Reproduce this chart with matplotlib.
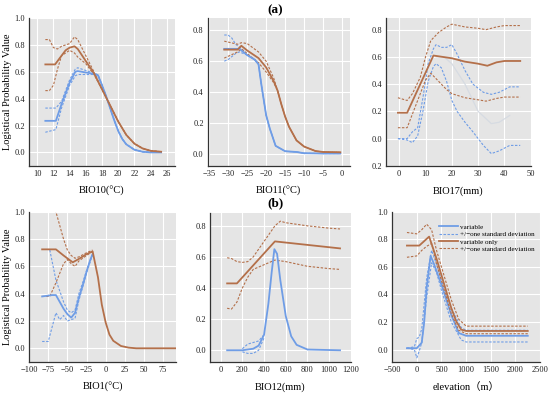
import numpy as np
import matplotlib
matplotlib.use("Agg")
import matplotlib.pyplot as plt
from matplotlib.ticker import FuncFormatter

plt.rcParams['font.family'] = ['Liberation Serif', 'Noto Sans CJK SC']

BLUE = '#6f9de6'
BROWN = '#b4704a'

# ---- panel 1: BIO10
bio10_x = [11, 12.3, 13, 14, 14.7, 15, 16, 17, 17.5, 18, 18.5, 19, 19.5, 20, 20.5, 21, 22, 23, 24, 25.3]
bio10_blue = [0.235, 0.235, 0.36, 0.52, 0.6, 0.605, 0.595, 0.585, 0.575, 0.5, 0.42, 0.33, 0.24, 0.16, 0.1, 0.06, 0.02, 0.005, 0.0, 0.0]
bio10_blue_hi = [0.33, 0.33, 0.38, 0.54, 0.62, 0.63, 0.61, 0.59, 0.578, 0.5, 0.42, 0.33, 0.24, 0.16, 0.1, 0.06, 0.02, 0.005, 0.0, 0.0]
bio10_blue_lo = [0.15, 0.17, 0.33, 0.5, 0.57, 0.58, 0.58, 0.58, 0.572, 0.5, 0.42, 0.33, 0.24, 0.16, 0.1, 0.06, 0.02, 0.005, 0.0, 0.0]
bio10_bx = [11, 12.2, 13, 13.5, 14, 14.6, 15, 16, 17, 18, 19, 20, 21, 22, 23, 24, 25.3]
bio10_brown = [0.655, 0.655, 0.72, 0.76, 0.78, 0.79, 0.77, 0.68, 0.59, 0.47, 0.35, 0.23, 0.13, 0.065, 0.03, 0.012, 0.005]
bio10_bhi_x = [11, 11.5, 12, 12.5, 13, 14, 14.6, 15, 16, 17, 18, 19, 20, 21, 22, 23, 24, 25.3]
bio10_brown_hi = [0.84, 0.84, 0.78, 0.77, 0.79, 0.81, 0.86, 0.84, 0.72, 0.6, 0.47, 0.35, 0.23, 0.13, 0.065, 0.03, 0.012, 0.005]
bio10_brown_lo = [0.46, 0.46, 0.5, 0.62, 0.72, 0.76, 0.74, 0.71, 0.66, 0.58, 0.47, 0.35, 0.23, 0.13, 0.065, 0.03, 0.012, 0.005]

# ---- panel 2: BIO11
bio11_x = [-31, -30, -29, -28, -27, -26, -25, -23, -22, -21.2, -20, -19, -17.5, -15, -12, -10, -5, -0.5]
bio11_blue = [0.68, 0.68, 0.68, 0.68, 0.68, 0.66, 0.64, 0.61, 0.58, 0.44, 0.25, 0.16, 0.05, 0.015, 0.01, 0.002, 0.0, 0.0]
bio11_blue_hi = [0.77, 0.77, 0.75, 0.71, 0.69, 0.67, 0.64, 0.61, 0.58, 0.44, 0.25, 0.16, 0.05, 0.015, 0.01, 0.002, 0.0, 0.0]
bio11_blue_lo = [0.60, 0.61, 0.63, 0.65, 0.66, 0.65, 0.64, 0.61, 0.58, 0.44, 0.25, 0.16, 0.05, 0.015, 0.01, 0.002, 0.0, 0.0]
bio11_bx = [-31, -27.5, -26.5, -25, -22, -20, -18, -17, -16, -15, -14, -12, -10, -7, -5, -0.5]
bio11_brown = [0.675, 0.675, 0.70, 0.67, 0.62, 0.56, 0.47, 0.41, 0.32, 0.24, 0.175, 0.085, 0.045, 0.016, 0.01, 0.008]
bio11_brown_hi = [0.73, 0.71, 0.72, 0.715, 0.66, 0.6, 0.49, 0.41, 0.32, 0.24, 0.175, 0.085, 0.045, 0.016, 0.01, 0.008]
bio11_brown_lo = [0.62, 0.66, 0.68, 0.65, 0.59, 0.53, 0.46, 0.41, 0.32, 0.24, 0.175, 0.085, 0.045, 0.016, 0.01, 0.008]

# ---- panel 3: BIO17
bio17_x = [-0.5, 3, 13, 20, 25, 30, 33.5, 37, 40, 46]
bio17_brown = [0.19, 0.19, 0.61, 0.59, 0.565, 0.55, 0.535, 0.56, 0.57, 0.57]
bio17_dx = [-0.5, 3, 5, 8, 10, 12, 15, 18, 20, 25, 30, 33, 37, 40, 46]
bio17_brown_hi = [0.30, 0.28, 0.33, 0.45, 0.60, 0.72, 0.78, 0.82, 0.84, 0.82, 0.81, 0.80, 0.82, 0.83, 0.83]
bio17_brown_lo = [0.08, 0.08, 0.18, 0.33, 0.43, 0.48, 0.42, 0.36, 0.33, 0.30, 0.285, 0.275, 0.295, 0.305, 0.305]
bio17_bx = [-0.5, 3, 5, 7, 9, 11, 13, 14, 16, 18, 20, 22, 25, 28, 32, 35, 38, 42, 46]
bio17_blue_hi = [0.0, 0.0, 0.05, 0.08, 0.3, 0.55, 0.66, 0.69, 0.67, 0.67, 0.69, 0.62, 0.5, 0.4, 0.34, 0.325, 0.34, 0.38, 0.38]
bio17_blue_lo = [0.0, -0.01, -0.03, 0.02, 0.2, 0.42, 0.53, 0.55, 0.52, 0.42, 0.28, 0.2, 0.12, 0.05, -0.05, -0.11, -0.09, -0.05, -0.05]
bio17_fx = [14, 17, 20, 25, 30, 35, 38, 42]
bio17_faint = [0.6, 0.6, 0.55, 0.4, 0.2, 0.11, 0.12, 0.17]

# ---- panel 4: BIO1
bio1_x = [-83, -65, -55, -43, -35, -25, -17, -10, -5, 0, 5, 10, 20, 30, 40, 92]
bio1_brown = [0.725, 0.725, 0.68, 0.63, 0.655, 0.69, 0.71, 0.52, 0.32, 0.19, 0.10, 0.055, 0.017, 0.005, 0.0, 0.0]
bio1_bx = [-83, -70, -65, -60, -55, -50, -45, -40, -35, -30, -25, -20, -17]
bio1_blue = [0.38, 0.39, 0.39, 0.34, 0.29, 0.25, 0.225, 0.26, 0.37, 0.46, 0.56, 0.65, 0.69]
bio1_hx = [-70, -60, -55, -50, -45, -40, -35, -25, -17]
bio1_brown_hi = [1.1, 0.9, 0.8, 0.72, 0.68, 0.66, 0.67, 0.7, 0.72]
bio1_lx = [-83, -73, -65, -55, -50, -45, -40, -35, -25, -17]
bio1_brown_lo = [0.38, 0.38, 0.48, 0.62, 0.65, 0.62, 0.6, 0.64, 0.68, 0.71]
bio1_ax = [-73, -65, -60, -55, -50, -45, -40, -35, -30, -25, -17]
bio1_blue_a = [0.72, 0.5, 0.42, 0.34, 0.28, 0.26, 0.28, 0.4, 0.48, 0.57, 0.69]
bio1_cx = [-83, -75, -65, -60, -55, -50, -45, -40, -35, -30, -25, -17]
bio1_blue_b = [0.05, 0.05, 0.26, 0.21, 0.24, 0.20, 0.21, 0.22, 0.35, 0.45, 0.55, 0.69]

# ---- panel 5: BIO12
bio12_x = [60, 150, 500, 1100]
bio12_brown = [0.43, 0.43, 0.70, 0.655]
bio12_dx = [60, 100, 150, 200, 250, 300, 400, 500, 550, 600, 800, 1000, 1100]
bio12_brown_hi = [0.595, 0.59, 0.57, 0.565, 0.57, 0.6, 0.7, 0.8, 0.83, 0.82, 0.8, 0.785, 0.78]
bio12_brown_lo = [0.27, 0.265, 0.31, 0.40, 0.47, 0.52, 0.55, 0.58, 0.575, 0.57, 0.54, 0.525, 0.52]
bio12_bx = [60, 200, 300, 350, 400, 440, 470, 495, 520, 550, 600, 650, 700, 800, 1100]
bio12_blue = [0.0, 0.0, 0.01, 0.03, 0.1, 0.3, 0.5, 0.65, 0.62, 0.45, 0.22, 0.09, 0.035, 0.005, 0.0]
bio12_sx = [200, 250, 300, 350, 400]
bio12_blue_hi = [0.01, 0.04, 0.05, 0.06, 0.1]
bio12_blue_lo = [-0.01, -0.02, -0.02, 0.0, 0.08]

# ---- panel 6: elevation
elev_x = [-200, 50, 250, 400, 500, 600, 700, 800, 900, 1000, 2250]
elev_brown = [0.755, 0.755, 0.82, 0.66, 0.54, 0.42, 0.30, 0.205, 0.145, 0.135, 0.135]
elev_dx = [-200, 0, 100, 200, 300, 400, 500, 700, 850, 1000, 2250]
elev_brown_hi = [0.85, 0.84, 0.87, 0.91, 0.87, 0.72, 0.6, 0.36, 0.22, 0.17, 0.17]
elev_brown_lo = [0.67, 0.68, 0.72, 0.75, 0.77, 0.62, 0.5, 0.26, 0.14, 0.115, 0.115]
elev_bx = [-200, 0, 100, 150, 200, 280, 350, 500, 700, 850, 1000, 2250]
elev_blue = [0.01, 0.01, 0.05, 0.2, 0.45, 0.68, 0.62, 0.47, 0.25, 0.12, 0.1, 0.1]
elev_sx = [-200, -50, 0, 50, 100, 200, 300, 400, 500, 700, 900, 1000, 2250]
elev_blue_hi = [0.01, 0.02, 0.08, 0.09, 0.15, 0.52, 0.72, 0.62, 0.5, 0.3, 0.16, 0.14, 0.14]
elev_blue_lo = [0.01, 0.0, -0.06, -0.01, 0.05, 0.38, 0.63, 0.56, 0.43, 0.2, 0.07, 0.055, 0.055]

fig = plt.figure(figsize=(5.5, 3.93), dpi=100)

pos = [
    [0.053, 0.578, 0.265, 0.376],
    [0.378, 0.578, 0.258, 0.376],
    [0.702, 0.578, 0.263, 0.376],
    [0.053, 0.079, 0.267, 0.382],
    [0.382, 0.079, 0.256, 0.378],
    [0.713, 0.079, 0.269, 0.382],
]
axes = [fig.add_axes(p) for p in pos]

DASH = (0, (2.2, 1.4))


def style(ax, xlim, ylim, xticks, yticks, xlabel):
    ax.set_facecolor('#e5e5e5')
    ax.set_xlim(*xlim)
    ax.set_ylim(*ylim)
    ax.set_xticks(xticks)
    ax.set_yticks(yticks)
    ax.grid(True, color='white', linewidth=0.8)
    ax.set_axisbelow(True)
    for s in ['top', 'right']:
        ax.spines[s].set_visible(False)
    for s in ['left', 'bottom']:
        ax.spines[s].set_color('#333333')
        ax.spines[s].set_linewidth(0.9)
    ax.tick_params(length=0, labelsize=6, pad=3, colors='#222222')
    ax.set_xlabel(xlabel, fontsize=7.5, labelpad=6)


def sd(ax, x, y, c):
    ax.plot(x, y, color=c, lw=0.8, ls=DASH)


def main(ax, x, y, c):
    ax.plot(x, y, color=c, lw=1.3)


def fmt1(v, p):
    return f"{v:.1f}"


ax = axes[0]
style(ax, (9, 27), (-0.1, 1.0), range(10, 27, 2), np.arange(0, 1.01, 0.2), 'BIO10(°C)')
sd(ax, bio10_x, bio10_blue_hi, BLUE)
sd(ax, bio10_x, bio10_blue_lo, BLUE)
sd(ax, bio10_bhi_x, bio10_brown_hi, BROWN)
sd(ax, bio10_bhi_x, bio10_brown_lo, BROWN)
main(ax, bio10_x, bio10_blue, BLUE)
main(ax, bio10_bx, bio10_brown, BROWN)
ax.set_ylabel('Logistical Probability Value', fontsize=7.5, labelpad=2)

ax = axes[1]
style(ax, (-35.3, 2), (-0.08, 0.88), range(-35, 1, 5), np.arange(0, 0.81, 0.2), 'BIO11(°C)')
sd(ax, bio11_x, bio11_blue_hi, BLUE)
sd(ax, bio11_x, bio11_blue_lo, BLUE)
sd(ax, bio11_bx, bio11_brown_hi, BROWN)
sd(ax, bio11_bx, bio11_brown_lo, BROWN)
main(ax, bio11_x, bio11_blue, BLUE)
main(ax, bio11_bx, bio11_brown, BROWN)

ax = axes[2]
style(ax, (-5, 50), (-0.2, 0.885), range(0, 51, 10), np.arange(-0.2, 0.81, 0.2), 'BIO17(mm)')
ax.yaxis.set_major_formatter(FuncFormatter(lambda v, p: f"{abs(v):.1f}"))
ax.plot(bio17_fx, bio17_faint, color='#d6dbe2', lw=0.9)
sd(ax, bio17_bx, bio17_blue_hi, BLUE)
sd(ax, bio17_bx, bio17_blue_lo, BLUE)
sd(ax, bio17_dx, bio17_brown_hi, BROWN)
sd(ax, bio17_dx, bio17_brown_lo, BROWN)
main(ax, bio17_x, bio17_brown, BROWN)

ax = axes[3]
style(ax, (-99, 92), (-0.1, 1.0), range(-100, 76, 25), np.arange(0, 1.01, 0.2), 'BIO1(°C)')
sd(ax, bio1_ax, bio1_blue_a, BLUE)
sd(ax, bio1_cx, bio1_blue_b, BLUE)
sd(ax, bio1_hx, bio1_brown_hi, BROWN)
sd(ax, bio1_lx, bio1_brown_lo, BROWN)
main(ax, bio1_bx, bio1_blue, BLUE)
main(ax, bio1_x, bio1_brown, BROWN)
ax.set_ylabel('Logistical Probability Value', fontsize=7.5, labelpad=2)

ax = axes[4]
style(ax, (-97, 1150), (-0.075, 0.88), range(0, 1201, 200), np.arange(0, 0.81, 0.2), 'BIO12(mm)')
sd(ax, bio12_sx, bio12_blue_hi, BLUE)
sd(ax, bio12_sx, bio12_blue_lo, BLUE)
sd(ax, bio12_dx, bio12_brown_hi, BROWN)
sd(ax, bio12_dx, bio12_brown_lo, BROWN)
main(ax, bio12_bx, bio12_blue, BLUE)
main(ax, bio12_x, bio12_brown, BROWN)

ax = axes[5]
style(ax, (-480, 2470), (-0.09, 1.0), range(-500, 2501, 500), np.arange(0, 1.01, 0.2), 'elevation（m）')
l1, = ax.plot(elev_bx, elev_blue, color=BLUE, lw=1.3, label='variable')
l2, = ax.plot(elev_sx, elev_blue_hi, color=BLUE, lw=0.8, ls=DASH, label='+/−one standard deviation')
ax.plot(elev_sx, elev_blue_lo, color=BLUE, lw=0.8, ls=DASH)
l3, = ax.plot(elev_x, elev_brown, color=BROWN, lw=1.3, label='variable only')
l4, = ax.plot(elev_dx, elev_brown_hi, color=BROWN, lw=0.8, ls=DASH, label='+/−one standard deviation')
ax.plot(elev_dx, elev_brown_lo, color=BROWN, lw=0.8, ls=DASH)
ax.legend(handles=[l1, l2, l3, l4], loc='upper left', bbox_to_anchor=(0.32, 0.92),
          frameon=False, fontsize=5.1, handlelength=2.6, handletextpad=0.3,
          labelspacing=0.2, borderpad=0, borderaxespad=0)

for ax in axes:
    ax.xaxis.set_major_formatter(FuncFormatter(lambda v, p: f"{int(v)}".replace('-', '−')))
for ax in [axes[0], axes[1], axes[3], axes[4], axes[5]]:
    ax.yaxis.set_major_formatter(FuncFormatter(fmt1))

fig.text(0.5, 0.974, '(a)', ha='center', va='center', fontsize=9.5, fontweight='bold')
fig.text(0.5, 0.483, '(b)', ha='center', va='center', fontsize=9.5, fontweight='bold')

fig.savefig('out.png', dpi=100)
